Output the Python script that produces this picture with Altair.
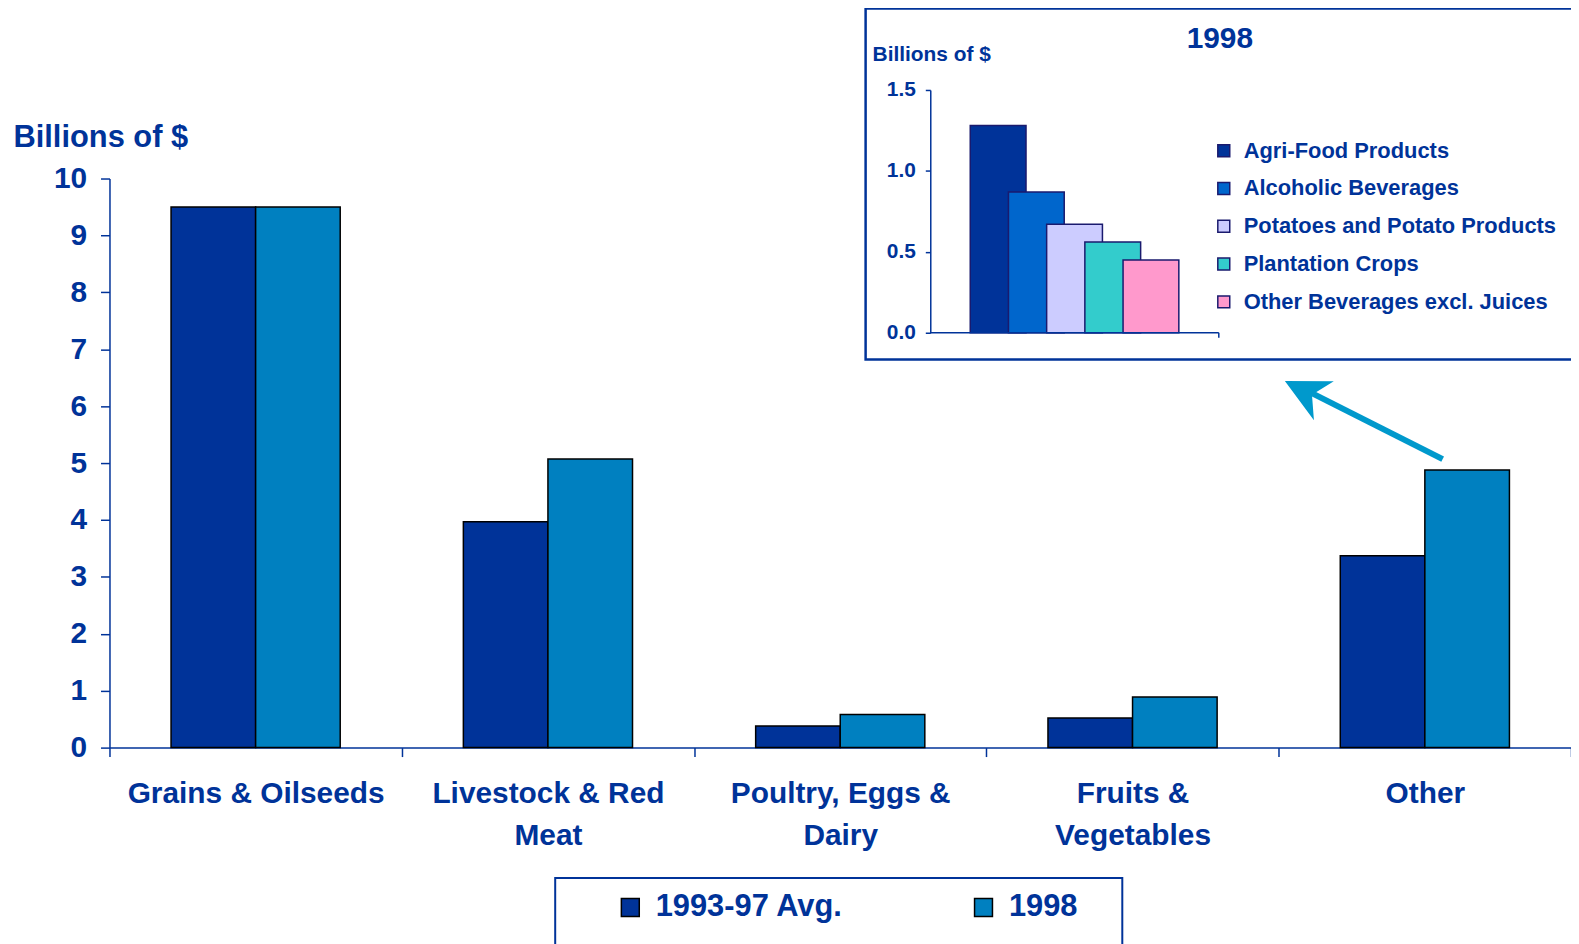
import json
import altair as alt
import pandas as pd

# ---------------- data ----------------
categories = ["Grains & Oilseeds", "Livestock & Red Meat", "Poultry, Eggs & Dairy",
              "Fruits & Vegetables", "Other"]
category_lines = [["Grains & Oilseeds"], ["Livestock & Red", "Meat"], ["Poultry, Eggs &", "Dairy"],
                  ["Fruits &", "Vegetables"], ["Other"]]
series = ["1993-97 Avg.", "1998"]
avg_9397 = [9.5, 3.97, 0.38, 0.52, 3.37]
val_1998 = [9.5, 5.07, 0.58, 0.89, 4.88]
main_ticks = [0, 1, 2, 3, 4, 5, 6, 7, 8, 9, 10]

inset_products = ["Agri-Food Products", "Alcoholic Beverages", "Potatoes and Potato Products",
                  "Plantation Crops", "Other Beverages excl. Juices"]
inset_values = [1.28, 0.87, 0.67, 0.56, 0.45]
inset_ticks = [0.0, 0.5, 1.0, 1.5]

series_colors = ["#003399", "#0080C0"]
inset_colors = ["#003399", "#0066CC", "#CCCCFF", "#33CCCC", "#FF99CC"]

# ---------------- styling ----------------
FONT = "Liberation Sans"
TXT = "#003399"

main_df = pd.DataFrame({
    "category": categories * 2,
    "series": [series[0]] * len(categories) + [series[1]] * len(categories),
    "value": avg_9397 + val_1998,
})
inset_df = pd.DataFrame({"product": inset_products, "value": inset_values})
one = pd.DataFrame({"a": [0]})

label_expr = " : ".join(
    f"datum.label == {json.dumps(c)} ? {json.dumps(l)}" for c, l in zip(categories, category_lines)
) + " : datum.label"

main = alt.Chart(main_df).mark_bar(stroke="black", strokeWidth=1.5).encode(
    x=alt.X("category:N", sort=categories,
            scale=alt.Scale(paddingInner=0, paddingOuter=0),
            axis=alt.Axis(orient="bottom", title=None, labelAngle=0, tickBand="extent",
                          tickSize=9, tickWidth=1.5, tickColor=TXT, domainColor=TXT, domainWidth=1.5,
                          labelPadding=22, labelFont=FONT, labelFontSize=30, labelFontWeight="bold",
                          labelColor=TXT, labelLineHeight=42, labelLimit=0, labelExpr=label_expr)),
    xOffset=alt.XOffset("series:N", sort=series,
                        scale=alt.Scale(paddingInner=0, paddingOuter=0.728)),
    y=alt.Y("value:Q", scale=alt.Scale(domain=[0, 10]),
            axis=alt.Axis(values=main_ticks, tickSize=9, tickWidth=1.5, tickColor=TXT,
                          domainColor=TXT, domainWidth=1.5, labelPadding=14, labelFont=FONT,
                          labelFontSize=30, labelFontWeight="bold", labelColor=TXT,
                          title="Billions of $", titleAngle=0, titleAlign="left",
                          titleBaseline="alphabetic", titleX=-97, titleY=-32, titleFont=FONT,
                          titleFontSize=31, titleFontWeight="bold", titleColor=TXT)),
    color=alt.Color("series:N", sort=series,
                    scale=alt.Scale(domain=series, range=series_colors),
                    legend=alt.Legend(orient="none", legendX=508, legendY=717, direction="horizontal",
                                      title=None, symbolType="square", symbolSize=324,
                                      symbolStrokeColor="black", symbolStrokeWidth=1.5,
                                      labelFont=FONT, labelFontSize=31, labelFontWeight="bold",
                                      labelColor=TXT, labelOffset=10, columnPadding=125,
                                      labelLimit=0)),
)

inset = alt.Chart(inset_df).mark_bar(stroke="#1a1a6e", strokeWidth=1.5,
                                     width=alt.RelativeBandSize(1.46)).encode(
    x=alt.X("product:N", sort=inset_products,
            scale=alt.Scale(range=[874, 1066], paddingInner=0, paddingOuter=0),
            axis=None),
    y=alt.Y("value:Q", scale=alt.Scale(domain=[0, 1.5], range=[155, -89]),
            axis=alt.Axis(orient="left", offset=-825, values=inset_ticks, format=".1f", title=None,
                          tickSize=5, tickWidth=1.5, tickColor=TXT, domainColor=TXT,
                          domainWidth=1.5, labelPadding=10, labelFont=FONT, labelFontSize=21,
                          labelFontWeight="bold", labelColor=TXT)),
    color=alt.Color("product:N", sort=inset_products,
                    scale=alt.Scale(domain=inset_products, range=inset_colors),
                    legend=alt.Legend(orient="none", legendX=1109, legendY=-39, direction="vertical",
                                      title=None, symbolType="square", symbolSize=144,
                                      symbolStrokeColor="#1a1a6e", symbolStrokeWidth=1.5,
                                      labelFont=FONT, labelFontSize=22, labelFontWeight="bold",
                                      labelColor=TXT, labelOffset=9, rowPadding=16, labelLimit=0)),
)

inset_xline = alt.Chart(one).mark_rule(color=TXT, strokeWidth=1.5).encode(
    x=alt.value(825), x2=alt.value(1115), y=alt.value(155))
inset_xtick = alt.Chart(one).mark_rule(color=TXT, strokeWidth=1.5).encode(
    x=alt.value(1115), y=alt.value(155), y2=alt.value(160))
inset_box = alt.Chart(one).mark_rect(fill="transparent", stroke=TXT, strokeWidth=2.5).encode(
    x=alt.value(760), x2=alt.value(1480), y=alt.value(-171), y2=alt.value(182))
legend_box = alt.Chart(one).mark_rect(fill="transparent", stroke=TXT, strokeWidth=2).encode(
    x=alt.value(448), x2=alt.value(1018), y=alt.value(703), y2=alt.value(800))
inset_title = alt.Chart(one).mark_text(text="1998", font=FONT, fontSize=30, fontWeight="bold",
                                       color=TXT, align="center", baseline="middle").encode(
    x=alt.value(1116), y=alt.value(-140))
inset_ytitle = alt.Chart(one).mark_text(text="Billions of $", font=FONT, fontSize=21,
                                        fontWeight="bold", color=TXT, align="left",
                                        baseline="middle").encode(
    x=alt.value(767), y=alt.value(-124))
arrow_line = alt.Chart(one).mark_rule(color="#0099CC", strokeWidth=6).encode(
    x=alt.value(1340), y=alt.value(282), x2=alt.value(1209), y2=alt.value(216))
arrow_head = alt.Chart(one).mark_point(shape="M0,-1L1,1L0,0.39L-1,1Z", filled=True, size=1936,
                                       angle=297, color="#0099CC", opacity=1).encode(
    x=alt.value(1201), y=alt.value(213.5))

chart = alt.layer(
    main, inset, inset_xline, inset_xtick, inset_box, legend_box, inset_title, inset_ytitle,
    arrow_line, arrow_head
).resolve_scale(
    x="independent", y="independent", color="independent"
).resolve_legend(
    color="independent"
).properties(
    width=1469, height=572,
    padding={"left": 102, "top": 169, "right": 0, "bottom": 195},
    autosize=alt.AutoSizeParams(type="none"),
).configure_view(stroke=None).configure_axis(grid=False)

chart.save("out.html", embed_options={"renderer": "svg", "actions": False})
